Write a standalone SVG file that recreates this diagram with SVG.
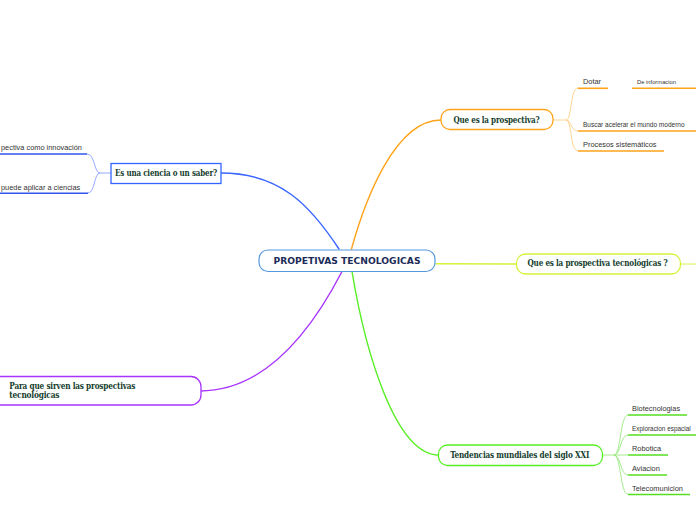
<svg xmlns="http://www.w3.org/2000/svg" width="696" height="520" viewBox="0 0 696 520">
<style>
.lbl{font-family:"DejaVu Serif Condensed","DejaVu Serif",serif;font-weight:bold;font-size:9px;fill:#143d2c;letter-spacing:-0.2px}
.sm{font-family:"Liberation Sans",Arial,sans-serif;font-size:7.4px;fill:#333}
.main{font-family:"DejaVu Sans","Liberation Sans",sans-serif;font-weight:bold;font-size:9.5px;fill:#1b2c58}
.c{fill:none;stroke-width:1.4;stroke-linecap:round}
.u{fill:none;stroke-width:1.6}
.b{fill:none;stroke-width:0.9}
</style>
<rect width="696" height="520" fill="#fff"/>
<g id="connectors">
<path class="c" stroke="#3a66ff" d="M339,249 C310,205 280,173 221,173"/>
<path class="c" stroke="#ffa31a" d="M351.5,249 C365,200 395,120 441,120"/>
<path class="c" stroke="#d4f23a" d="M436,263.7 L516,264"/>
<path class="c" stroke="#a833ff" d="M342,271.5 C322,310 275,391 200,391"/>
<path class="c" stroke="#55ee22" d="M352,271.5 C365,350 395,455 439,455"/>
<path class="b" stroke="#d4f23a" d="M680,264 L696,264"/>
<path class="b" stroke="#8aa0ff" d="M111,173 L100,173 C94,173 95,154 87,154 M100,173 C94,173 95,193 88,193"/>
<path class="b" stroke="#ffcf85" d="M553,120 L566,120 C572,120 570,88 578,88 M566,120 C572,120 570,131 578,131 M566,120 C572,120 570,151 578,151"/>
<path class="b" stroke="#9be880" d="M602.7,455 L614,455 C621,455 620,415 628,415 M614,455 C621,455 620,435 628,435 M614,455 L628,455 M614,455 C621,455 620,475 628,475 M614,455 C621,455 620,494 628,494"/>
</g>
<g id="central">
<rect x="259" y="250" width="176" height="21.5" rx="9" fill="#fff" stroke="#5599dd" stroke-width="1.2"/>
<text class="main" x="347" y="264.2" text-anchor="middle" textLength="147" lengthAdjust="spacingAndGlyphs">PROPETIVAS TECNOLOGICAS</text>
</g>
<g id="ciencia">
<rect x="111" y="163.5" width="110" height="20" fill="#fff" stroke="#3366ff" stroke-width="1.3"/>
<text class="lbl" x="166" y="175.5" text-anchor="middle" textLength="102" lengthAdjust="spacingAndGlyphs">Es una ciencia o un saber?</text>
</g>
<g id="ciencia-1">
<path class="u" stroke="#3355ee" d="M0,154 L87,154"/>
<text class="sm" x="1" y="149.5">pectiva como innovación</text>
</g>
<g id="ciencia-2">
<path class="u" stroke="#3355ee" d="M0,193.3 L88,193.3"/>
<text class="sm" x="1" y="189.5">puede aplicar a ciencias</text>
</g>
<g id="prospectiva">
<rect x="441" y="109.5" width="112" height="20" rx="9" fill="#fff" stroke="#ffa31a" stroke-width="1.3"/>
<text class="lbl" x="496.5" y="122.5" text-anchor="middle" textLength="86" lengthAdjust="spacingAndGlyphs">Que es la prospectiva?</text>
</g>
<g id="dotar">
<path class="u" stroke="#ffa31a" d="M578,88.3 L608,88.3"/>
<text class="sm" x="583" y="84">Dotar</text>
</g>
<g id="informacion">
<path class="u" stroke="#ffa31a" d="M632,88.3 L696,88.3"/>
<text class="sm" x="637" y="84" style="font-size:5.8px">De informacion</text>
</g>
<g id="buscar">
<path class="u" stroke="#ffa31a" d="M578,131 L696,131"/>
<text class="sm" x="583" y="127" style="font-size:6.5px">Buscar acelerar el mundo moderno</text>
</g>
<g id="procesos">
<path class="u" stroke="#ffa31a" d="M578,151 L664,151"/>
<text class="sm" x="583" y="146.5">Procesos sistemáticos</text>
</g>
<g id="tecnologicas">
<rect x="516.5" y="254" width="164" height="20" rx="9" fill="#fff" stroke="#d4f23a" stroke-width="1.3"/>
<text class="lbl" x="597.5" y="265.5" text-anchor="middle" textLength="140" lengthAdjust="spacingAndGlyphs">Que es la prospectiva tecnológicas ?</text>
</g>
<g id="sirven">
<rect x="-10" y="376.5" width="211" height="28.5" rx="10" fill="#fff" stroke="#a833ff" stroke-width="1.3"/>
<text class="lbl" x="9.3" y="388.5" textLength="126" lengthAdjust="spacingAndGlyphs">Para que sirven las prospectivas</text>
<text class="lbl" x="9.3" y="398" textLength="50" lengthAdjust="spacingAndGlyphs">tecnológicas</text>
</g>
<g id="tendencias">
<rect x="438.5" y="445" width="164" height="20.5" rx="9" fill="#fff" stroke="#55ee22" stroke-width="1.3"/>
<text class="lbl" x="519.7" y="458" text-anchor="middle" textLength="139" lengthAdjust="spacingAndGlyphs">Tendencias mundiales del siglo XXI</text>
</g>
<g id="bio">
<path class="u" stroke="#55dd22" d="M628,415 L687,415"/>
<text class="sm" x="632" y="411">Biotecnologias</text>
</g>
<g id="exploracion">
<path class="u" stroke="#55dd22" d="M628,435 L696,435"/>
<text class="sm" x="632" y="431" style="font-size:6.4px">Exploracion espacial</text>
</g>
<g id="robotica">
<path class="u" stroke="#55dd22" d="M628,455 L668,455"/>
<text class="sm" x="632" y="451">Robotica</text>
</g>
<g id="aviacion">
<path class="u" stroke="#55dd22" d="M628,475 L667,475"/>
<text class="sm" x="632" y="471">Aviacion</text>
</g>
<g id="telecom">
<path class="u" stroke="#55dd22" d="M628,494.5 L690,494.5"/>
<text class="sm" x="632" y="491">Telecomunicion</text>
</g>
</svg>
